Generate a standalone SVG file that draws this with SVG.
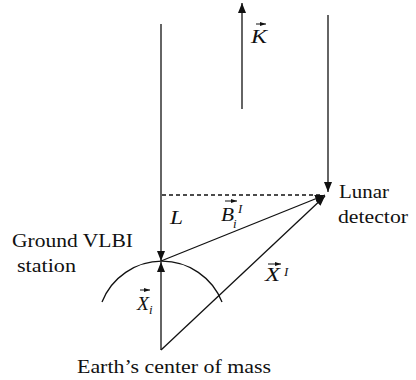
<svg xmlns="http://www.w3.org/2000/svg" width="416" height="380" viewBox="0 0 416 380">
<defs>
<marker id="ah" viewBox="0 0 10 8" refX="10" refY="4" markerWidth="10" markerHeight="8" markerUnits="userSpaceOnUse" orient="auto"><path d="M0,0 L10,4 L0,8 z" fill="#111"/></marker>
<marker id="sm" viewBox="0 0 6 4" refX="6" refY="2" markerWidth="6" markerHeight="4" markerUnits="userSpaceOnUse" orient="auto"><path d="M0,0 L6,2 L0,4 z" fill="#111"/></marker>
<style>
.ln{stroke:#111;stroke-width:1.3;fill:none}
.ar{marker-end:url(#ah)}
.va{stroke:#111;stroke-width:1;fill:none;marker-end:url(#sm)}
.t{font-family:'Liberation Serif','DejaVu Serif',serif;font-size:19px;fill:#111}
.m{font-family:'Liberation Serif','DejaVu Serif',serif;font-size:19px;font-style:italic;fill:#111}
.s{font-family:'Liberation Serif','DejaVu Serif',serif;font-size:13px;font-style:italic;fill:#111}
</style>
</defs>
<g id="connectors">
<line class="ln ar" x1="161" y1="24" x2="161" y2="261"/>
<line class="ln ar" x1="328" y1="15" x2="328" y2="192"/>
<line class="ln ar" x1="242" y1="109" x2="242" y2="3"/>
<line class="ln" x1="162" y1="195" x2="322" y2="195" stroke-dasharray="4,3"/>
<line class="ln ar" x1="161" y1="261" x2="325" y2="195"/>
<line class="ln ar" x1="161" y1="350" x2="161" y2="262"/>
<line class="ln ar" x1="161" y1="350" x2="325" y2="196"/>
<path class="ln" d="M102,302 A64.5,64.5 0 0 1 222,302"/>
</g>
<g id="ground-station">
<text class="t" x="12" y="247" textLength="121" lengthAdjust="spacingAndGlyphs">Ground VLBI</text>
<text class="t" x="17" y="272" textLength="59" lengthAdjust="spacingAndGlyphs">station</text>
</g>
<g id="lunar-detector">
<text class="t" x="339" y="198" textLength="50" lengthAdjust="spacingAndGlyphs">Lunar</text>
<text class="t" x="338" y="223" textLength="70" lengthAdjust="spacingAndGlyphs">detector</text>
</g>
<g id="earth-center">
<text class="t" x="77" y="373" textLength="194" lengthAdjust="spacingAndGlyphs">Earth’s center of mass</text>
</g>
<g id="label-K">
<text class="m" x="251" y="43" textLength="16" lengthAdjust="spacingAndGlyphs">K</text>
<line class="va" x1="256" y1="24" x2="266" y2="24"/>
</g>
<g id="label-L">
<text class="m" x="170" y="224" textLength="13" lengthAdjust="spacingAndGlyphs">L</text>
</g>
<g id="label-B">
<text class="m" x="221" y="221" textLength="13" lengthAdjust="spacingAndGlyphs">B</text>
<text class="s" x="233" y="228">i</text>
<text class="s" x="238" y="213">I</text>
<line class="va" x1="225" y1="201" x2="237" y2="201"/>
</g>
<g id="label-XI">
<text class="m" x="265" y="281" textLength="15" lengthAdjust="spacingAndGlyphs">X</text>
<text class="s" x="284" y="276">I</text>
<line class="va" x1="268" y1="264" x2="281" y2="264"/>
</g>
<g id="label-Xi">
<text class="m" x="137" y="310" textLength="12" lengthAdjust="spacingAndGlyphs">X</text>
<text class="s" x="149" y="314">i</text>
<line class="va" x1="140" y1="290" x2="150" y2="290"/>
</g>
</svg>
